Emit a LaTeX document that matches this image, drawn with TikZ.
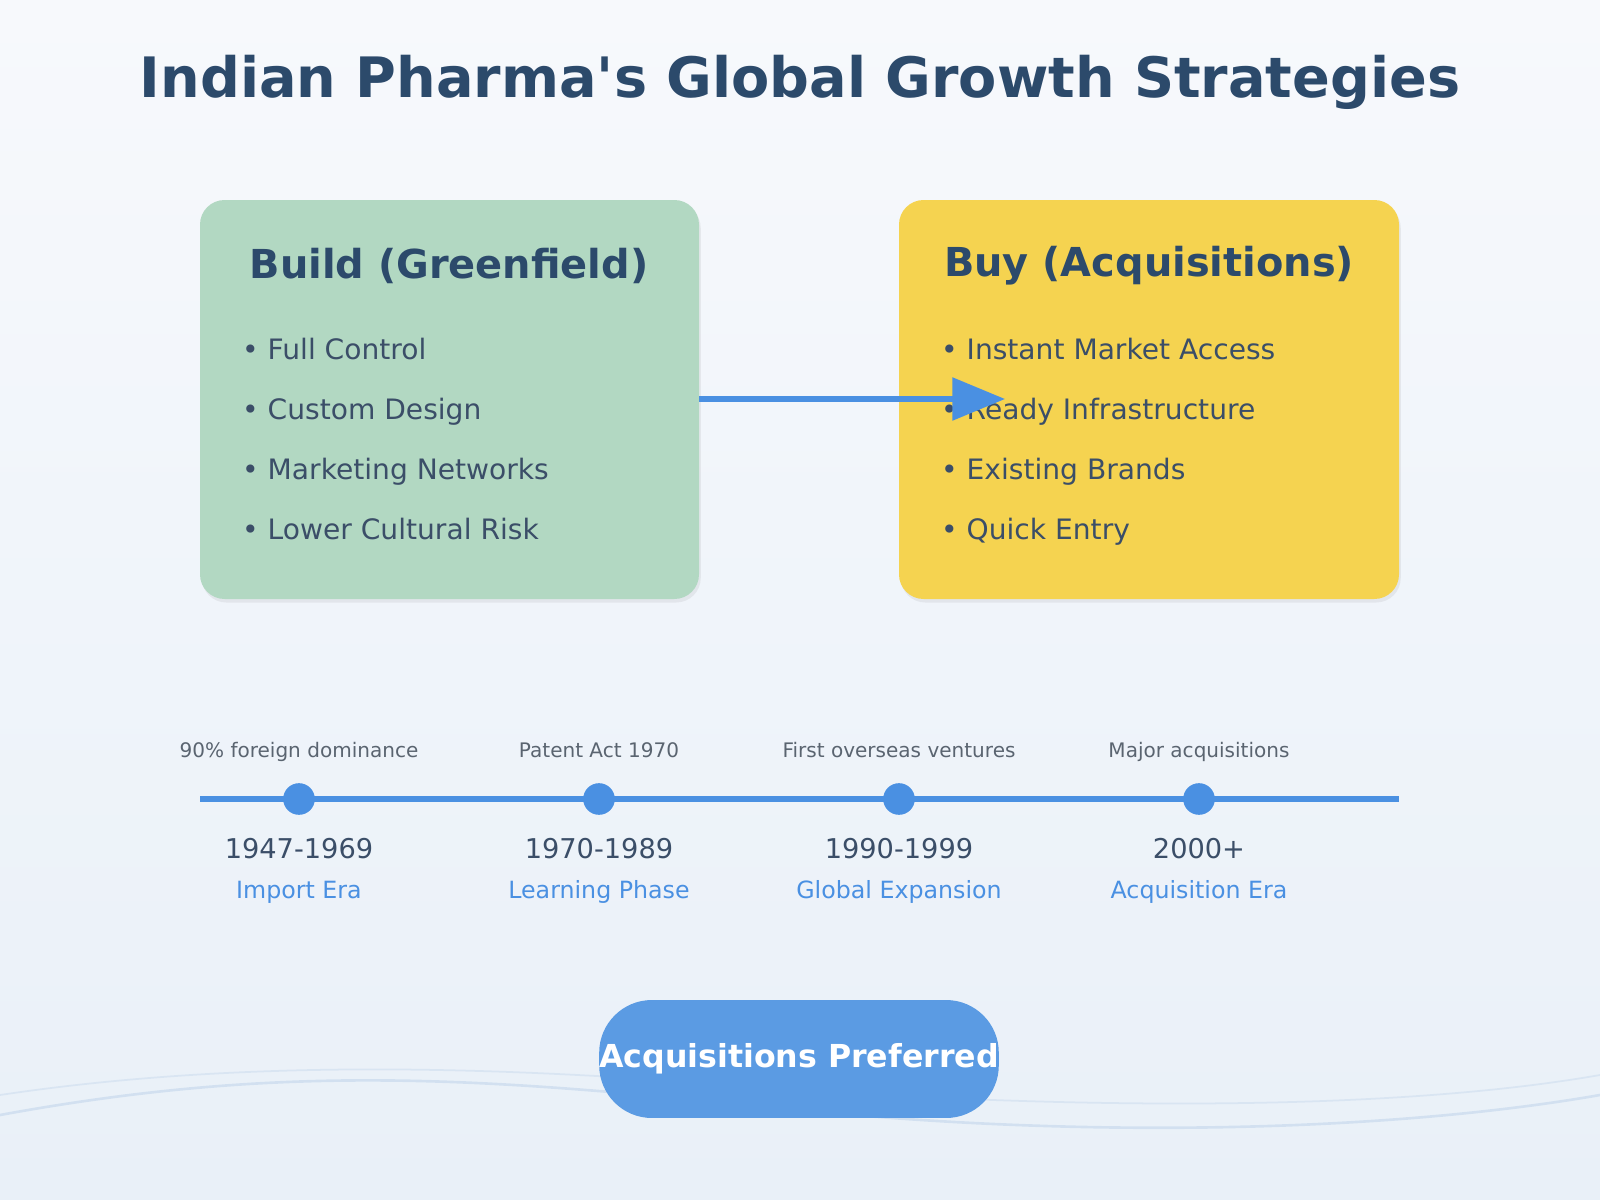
\documentclass[tikz,border=0pt]{standalone}
\usepackage{fontspec}
\setmainfont{DejaVu Sans}[Ligatures=TeXOff]
\usetikzlibrary{arrows.meta,shadows}
\definecolor{bgA}{HTML}{F7F9FC}
\definecolor{bgB}{HTML}{E9F0F8}
\definecolor{navy}{HTML}{2C4A6B}
\definecolor{txt}{HTML}{3B4E68}
\definecolor{green}{HTML}{B2D8C2}
\definecolor{yell}{HTML}{F5D350}
\definecolor{blue}{HTML}{4A90E2}
\definecolor{btn}{HTML}{5B9BE3}
\definecolor{gry}{HTML}{5A6470}
\definecolor{wave}{HTML}{C9DAEE}
\tikzset{
 card/.style={rounded corners=14pt,drop shadow={opacity=0.12,shadow xshift=1pt,shadow yshift=-2pt}},
 ctitle/.style={font=\bfseries\fontsize{22.7}{26}\selectfont,text=navy},
 bul/.style={anchor=west,text height=12pt,text depth=3.5pt,font=\fontsize{16}{19}\selectfont,text=txt},
 top/.style={text height=8pt,text depth=2.5pt,font=\fontsize{11.4}{13}\selectfont,text=gry},
 yr/.style={font=\fontsize{15.5}{18}\selectfont,text=txt},
 era/.style={text height=10pt,text depth=3pt,font=\fontsize{13.5}{16}\selectfont,text=blue},
 dot/.style={circle,fill=blue,minimum size=18pt,inner sep=0pt},
}
\begin{document}
\begin{tikzpicture}[x=0.02cm,y=-0.02cm]
\shade[top color=bgA,bottom color=bgB,shading angle=0] (0,0) rectangle (1600,1200);
\useasboundingbox (0,0) rectangle (1600,1200);
\draw[wave,line width=1.5pt,opacity=0.7] (0,1115) .. controls (300,1060) and (500,1080) .. (800,1110) .. controls (1100,1140) and (1400,1130) .. (1600,1095);
\draw[wave,line width=1pt,opacity=0.5] (0,1095) .. controls (300,1050) and (600,1075) .. (800,1090) .. controls (1100,1110) and (1400,1110) .. (1600,1075);
\node[font=\bfseries\fontsize{31.7}{36}\selectfont,text=navy] (title) at (800,82) {Indian Pharma's Global Growth Strategies};
\fill[green,card] (200,200) rectangle (699,599);
\coordinate (g) at (699,399);
\fill[yell,card] (899,200) rectangle (1399,599);
\node[ctitle] (bt) at (449,266) {Build (Greenfield)};
\node[ctitle] (yt) at (1149,266) {Buy (Acquisitions)};
\foreach \t [count=\i] in {Full Control,Custom Design,Marketing Networks,Lower Cultural Risk}
  \node[bul] (b\i) at (236,292+60*\i) {• \t};
\foreach \t [count=\i] in {Instant Market Access,Ready Infrastructure,Existing Brands,Quick Entry}
  \node[bul] (y\i) at (935,292+60*\i) {• \t};
\coordinate (ae) at (1005,399);
\draw[blue,line width=3pt,-{Triangle[length=30pt,width=24pt]}] (g) -- (ae);
\coordinate (tl) at (200,799); \coordinate (tr) at (1399,799);
\draw[blue,line width=3pt] (tl) -- (tr);
\foreach \x/\a/\y/\e [count=\i] in {299/90\% foreign dominance/1947-1969/Import Era,599/Patent Act 1970/1970-1989/Learning Phase,899/First overseas ventures/1990-1999/Global Expansion,1199/Major acquisitions/2000+/Acquisition Era}{
  \node[dot] (d\i) at (\x,799) {};
  \node[top] (t\i) at (\x,753) {\a};
  \node[yr] (r\i) at (\x,849) {\y};
  \node[era] (e\i) at (\x,892) {\e};
}
\node[fill=btn,rounded corners=30pt,inner sep=0pt,
  minimum width=7.96cm,minimum height=2.36cm,text=white,font=\bfseries\fontsize{18}{21}\selectfont] (btn) at (799,1059) {Acquisitions Preferred};
\end{tikzpicture}
\end{document}
